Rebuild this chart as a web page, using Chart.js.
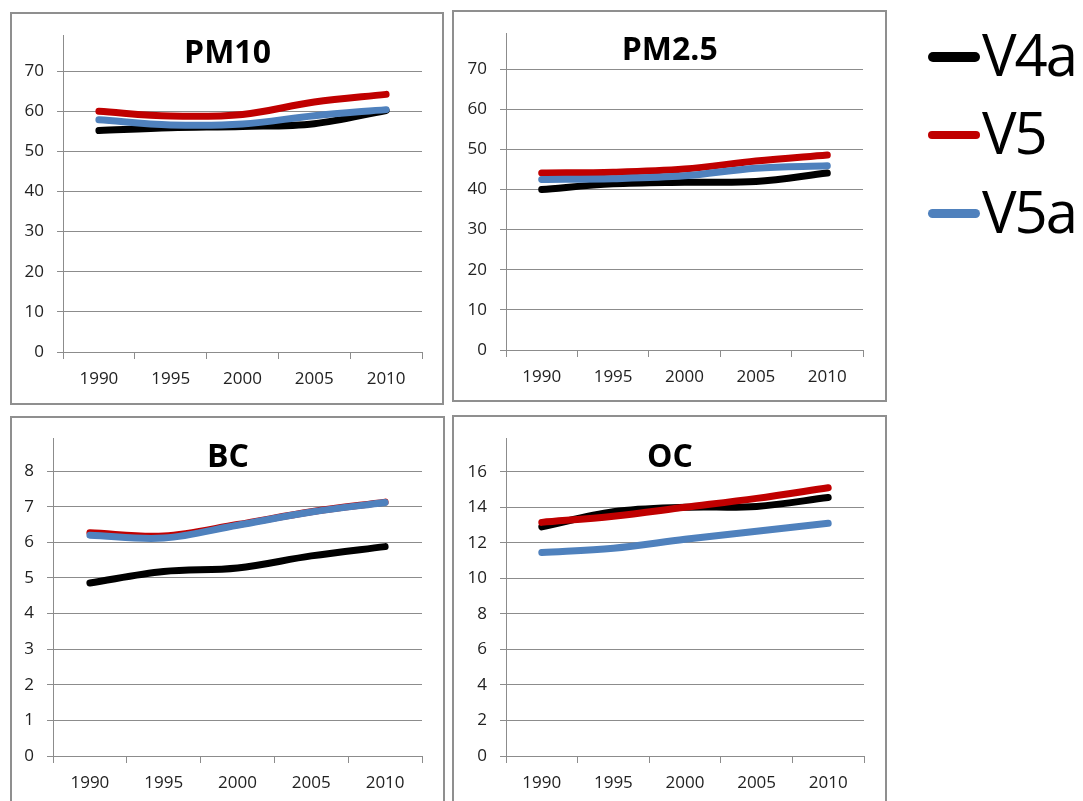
<!DOCTYPE html>
<html>
<head>
<meta charset="utf-8">
<script src="https://cdn.jsdelivr.net/npm/chart.js@4.4.1/dist/chart.umd.min.js"></script>
<style>
    html, body { margin: 0; padding: 0; background: #fff; overflow: hidden; }
    body { width: 1083px; height: 801px; position: relative; font-family: 'Open Sans', sans-serif; }
    .panel { position: absolute; box-sizing: border-box; border: 2px solid #8f8f8f; }
    canvas { position: absolute; }
    .title { position: absolute; font-weight: bold; font-size: 32px; line-height: 32px; color: #000; transform: translate(-50%, -50%); white-space: nowrap; }
    .legend-line { position: absolute; left: 928px; width: 52px; height: 9px; border-radius: 5px; }
    .legend-text { position: absolute; left: 982px; font-size: 58px; line-height: 58px; height: 58px; color: #000; letter-spacing: -2px; white-space: nowrap; }
</style>
</head>
<body>
<div id="root"></div>
<script>
// Shared categories / series
const years = ['1990', '1995', '2000', '2005', '2010'];
const seriesNames = ['V4a', 'V5', 'V5a'];
const seriesColors = ['#000000', '#c00000', '#4f81bd'];

// PM10
const pm10V4a = [55.2, 55.9, 56.2, 56.9, 60.2];
const pm10V5 = [60.0, 58.8, 59.2, 62.3, 64.2];
const pm10V5a = [57.9, 56.6, 56.8, 58.9, 60.4];

// PM2.5
const pm25V4a = [40.0, 41.4, 41.8, 42.0, 44.1];
const pm25V5 = [44.1, 44.3, 45.1, 47.1, 48.6];
const pm25V5a = [42.5, 42.7, 43.4, 45.3, 45.9];

// BC
const bcV4a = [4.86, 5.18, 5.28, 5.62, 5.88];
const bcV5 = [6.27, 6.18, 6.5, 6.86, 7.13];
const bcV5a = [6.2, 6.12, 6.48, 6.85, 7.12];

// OC
const ocV4a = [12.9, 13.75, 14.0, 14.05, 14.55];
const ocV5 = [13.15, 13.5, 14.0, 14.5, 15.1];
const ocV5a = [11.45, 11.7, 12.2, 12.65, 13.1];

// Tick labels
const pmTicks = [0, 10, 20, 30, 40, 50, 60, 70];
const bcTicks = [0, 1, 2, 3, 4, 5, 6, 7, 8];
const ocTicks = [0, 2, 4, 6, 8, 10, 12, 14, 16];

const GRID = '#8c8c8c';
const TEXT = '#222222';

Chart.defaults.font.family = "'Open Sans', sans-serif";

const panels = [
    { title: 'PM10', series: [pm10V4a, pm10V5, pm10V5a], ticks: pmTicks, max: 79,
      box: { left: 10, top: 12, width: 434, height: 393 }, canvasTop: 13, canvasH: 392,
      area: { yW: 53, right: 22, top: 22, xH: 53 }, titlePos: [227.5, 52] },
    { title: 'PM2.5', series: [pm25V4a, pm25V5, pm25V5a], ticks: pmTicks, max: 79,
      box: { left: 452, top: 10, width: 435, height: 392 }, canvasTop: 10, canvasH: 392,
      area: { yW: 54, right: 24, top: 23, xH: 52 }, titlePos: [669.7, 48.7] },
    { title: 'BC', series: [bcV4a, bcV5, bcV5a], ticks: bcTicks, max: 8.93,
      box: { left: 10, top: 416, width: 435, height: 420 }, canvasTop: 416, canvasH: 385,
      area: { yW: 43, right: 23, top: 22, xH: 45 }, titlePos: [228, 455.8] },
    { title: 'OC', series: [ocV4a, ocV5, ocV5a], ticks: ocTicks, max: 17.9,
      box: { left: 452, top: 415, width: 435, height: 420 }, canvasTop: 415, canvasH: 386,
      area: { yW: 54, right: 23, top: 23, xH: 45 }, titlePos: [670, 455.8] }
];

const root = document.getElementById('root');

function buildPanel(p) {
    const border = document.createElement('div');
    border.className = 'panel';
    Object.assign(border.style, {
        left: p.box.left + 'px', top: p.box.top + 'px',
        width: p.box.width + 'px', height: p.box.height + 'px'
    });
    root.appendChild(border);

    const canvas = document.createElement('canvas');
    canvas.width = p.box.width;
    canvas.height = p.canvasH;
    Object.assign(canvas.style, {
        left: p.box.left + 'px', top: p.canvasTop + 'px',
        width: p.box.width + 'px', height: p.canvasH + 'px'
    });
    root.appendChild(canvas);

    const title = document.createElement('div');
    title.className = 'title';
    title.textContent = p.title;
    title.style.left = p.titlePos[0] + 'px';
    title.style.top = (p.titlePos[1] - 1) + 'px';
    root.appendChild(title);

    const datasets = p.series.map((values, i) => ({
        label: seriesNames[i],
        data: values,
        borderColor: seriesColors[i],
        backgroundColor: seriesColors[i],
        borderWidth: 7,
        borderCapStyle: 'round',
        borderJoinStyle: 'round',
        pointRadius: 0,
        tension: 0.35,
        fill: false,
        order: seriesNames.length - i
    }));

    new Chart(canvas.getContext('2d'), {
        type: 'line',
        data: { labels: years, datasets },
        options: {
            responsive: false,
            animation: false,
            layout: { padding: { left: 0, right: p.area.right, top: p.area.top, bottom: 0 } },
            plugins: { legend: { display: false }, tooltip: { enabled: false }, title: { display: false } },
            scales: {
                x: {
                    type: 'category',
                    offset: true,
                    grid: { offset: true, drawOnChartArea: false, drawTicks: true, tickLength: 7, color: GRID, lineWidth: 1 },
                    border: { color: GRID, width: 1 },
                    ticks: { color: TEXT, font: { size: 17 }, padding: 10, maxRotation: 0, autoSkip: false },
                    afterFit: (scale) => {
                        scale.height = p.area.xH;
                        scale.paddingLeft = 0; scale.paddingRight = 0;
                    }
                },
                y: {
                    min: 0,
                    max: p.max,
                    grid: { color: GRID, lineWidth: 1, tickLength: 6 },
                    border: { color: GRID, width: 1 },
                    ticks: { color: TEXT, font: { size: 17 }, padding: 13 },
                    afterBuildTicks: (scale) => {
                        scale.ticks = p.ticks.map(v => ({ value: v }));
                    },
                    afterFit: (scale) => {
                        scale.width = p.area.yW;
                        scale.paddingTop = 0; scale.paddingBottom = 0;
                    }
                }
            }
        }
    });
}

function buildLegend() {
    const centers = [57, 135, 213];
    const textCenters = [55.8, 134.2, 212.5];
    const thickness = [10, 8, 9];
    seriesNames.forEach((name, i) => {
        const line = document.createElement('div');
        line.className = 'legend-line';
        line.style.background = seriesColors[i];
        line.style.height = thickness[i] + 'px';
        line.style.top = (centers[i] - thickness[i] / 2) + 'px';
        root.appendChild(line);

        const txt = document.createElement('div');
        txt.className = 'legend-text';
        txt.textContent = name;
        txt.style.top = (textCenters[i] - 31) + 'px';
        root.appendChild(txt);
    });
}

panels.forEach(buildPanel);
buildLegend();
</script>
</body>
</html>
